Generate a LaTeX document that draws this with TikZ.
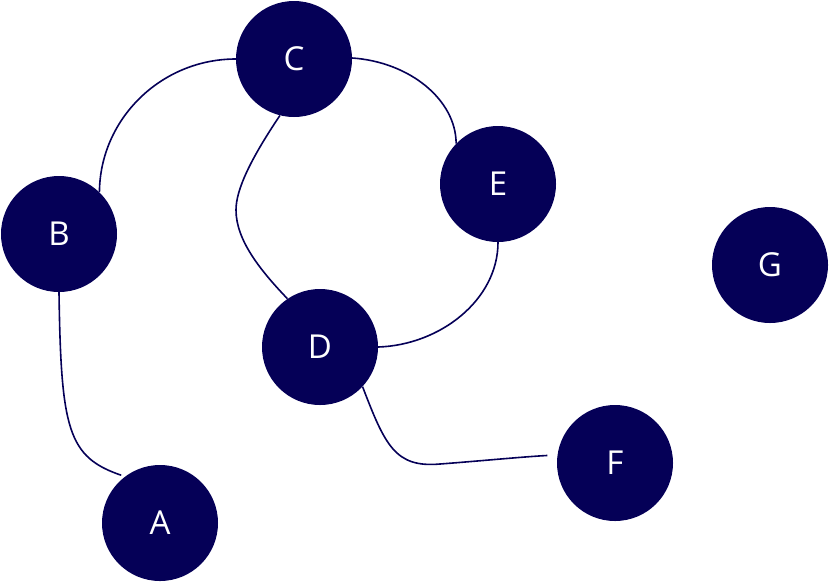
\documentclass[tikz,border=0pt]{standalone}
\usepackage{fontspec}
\setmainfont{Open Sans}
\definecolor{navy}{HTML}{050057}
\begin{document}
\begin{tikzpicture}[x=1pt,y=-1pt,
  vertex/.style={circle,fill=navy,draw=none,minimum size=116pt,inner sep=0pt,
    text=white,font=\fontsize{33}{33}\selectfont},
  link/.style={draw=navy,line width=1.6pt}]
\useasboundingbox (0,0) rectangle (829,582);
\node[vertex] (C) at (294,59) {C};
\node[vertex] (B) at (59,234) {B};
\node[vertex] (E) at (498,184) {E};
\node[vertex] (G) at (770,265) {G};
\node[vertex] (D) at (320,347) {D};
\node[vertex] (F) at (615,463) {F};
\node[vertex] (A) at (160,523) {A};
\draw[link] (B.46) .. controls (100,119) and (161,59) .. (C.180);
\draw[link] (C.-104) .. controls (250,160) and (236,190) .. (236,210) .. controls (236,240) and (260,270) .. (D.124);
\draw[link] (C.1) .. controls (410,62) and (456,100) .. (E.136);
\draw[link] (E.-90) .. controls (498,300) and (440,345) .. (D.0);
\draw[link,shorten >=4pt] (B.-90) .. controls (61,430) and (68,457) .. (A.127);
\draw[link,shorten >=10pt] (D.-43) .. controls (385,445) and (395,468) .. (440,464) .. controls (480,461) and (520,457) .. (F.172);
\end{tikzpicture}
\end{document}
